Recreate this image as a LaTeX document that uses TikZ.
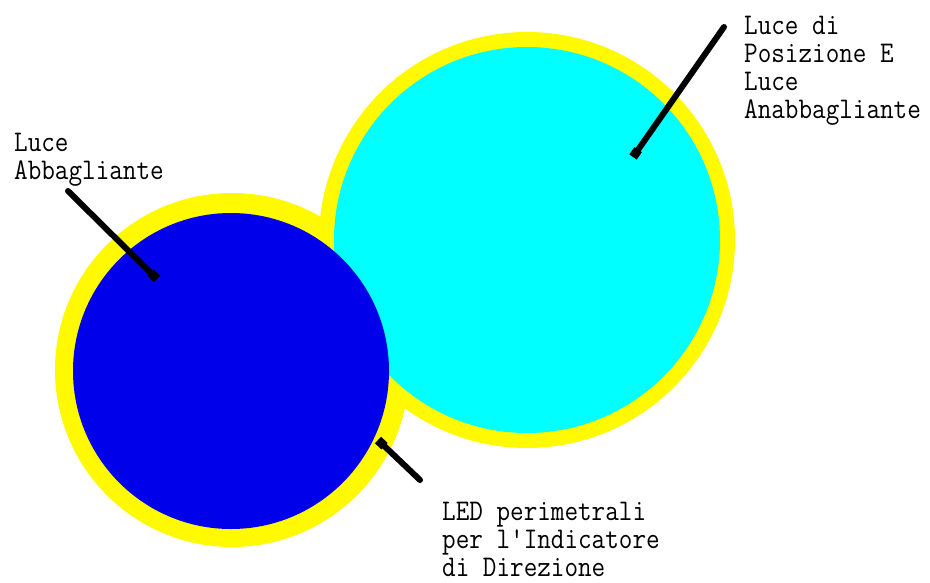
\documentclass[tikz,border=0pt]{standalone}
\usepackage{fontspec}
\usetikzlibrary{arrows.meta}
\definecolor{LYellow}{RGB}{255,250,0}
\definecolor{LCyan}{RGB}{0,255,255}
\definecolor{LBlue}{RGB}{0,0,235}
\tikzset{
  lamp/.style={circle, inner sep=0pt, minimum size=#1},
  pointer/.style={line width=6pt, line cap=round, -{Square[length=9pt,width=9pt]}},
  tag/.style={anchor=north west, inner sep=0pt, align=left, xscale=0.88,
    font=\fontsize{30}{28}\ttfamily\selectfont}
}

\begin{document}
\begin{tikzpicture}[x=1pt,y=-1pt]
  \useasboundingbox[fill=white] (0,0) rectangle (930,582);

  % lamps
  \node[lamp=354pt, fill=LYellow] (ringL) at (232,370) {};
  \node[lamp=416pt, fill=LYellow] (ringR) at (527,240) {};
  \node[lamp=386pt, fill=LCyan] (low) at (527,240) {};
  \node[lamp=316pt, fill=LBlue] (high) at (231,371) {};

  % labels
  \node[tag] (highlbl) at (14,133) {Luce\\Abbagliante};
  \node[tag] (lowlbl) at (744,16) {Luce di\\Posizione E\\Luce\\Anabbagliante};
  \node[tag] (ledlbl) at (442,502) {LED perimetrali\\per l'Indicatore\\di Direzione};

  % pointers
  \coordinate (highfrom) at (68,191);
  \coordinate (highto) at (157,279);
  \coordinate (lowfrom) at (724,27);
  \coordinate (lowto) at (633,157);
  \coordinate (ledfrom) at (420,480);
  \coordinate (ledto) at (378,440);
  \draw[pointer] (highfrom) -- (highto);
  \draw[pointer] (lowfrom) -- (lowto);
  \draw[pointer] (ledfrom) -- (ledto);
\end{tikzpicture}
\end{document}
